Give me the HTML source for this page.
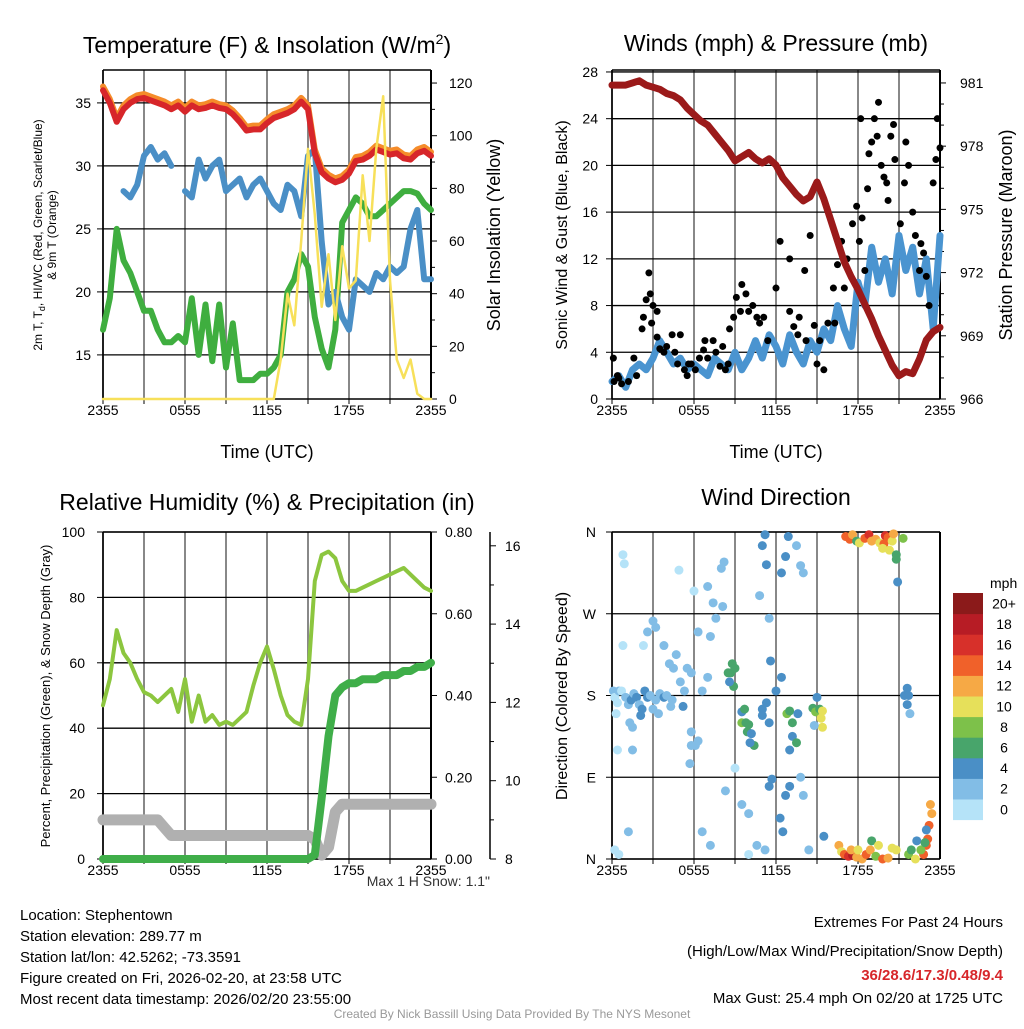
<!DOCTYPE html>
<html><head><meta charset="utf-8"><style>
body{margin:0;background:#fff;font-family:"Liberation Sans",sans-serif}
svg text{font-family:"Liberation Sans",sans-serif}
</style></head><body>
<svg id="s" width="1024" height="1024" viewBox="0 0 1024 1024" xmlns="http://www.w3.org/2000/svg">
<g>
<text x="267" y="53" font-size="23" text-anchor="middle">Temperature (F) &amp; Insolation (W/m<tspan font-size="14" dy="-9">2</tspan><tspan dy="9">)</tspan></text>
<text x="776" y="51" font-size="23" text-anchor="middle">Winds (mph) &amp; Pressure (mb)</text>
<text x="267" y="510" font-size="23" text-anchor="middle">Relative Humidity (%) &amp; Precipitation (in)</text>
<text x="776" y="505" font-size="23" text-anchor="middle">Wind Direction</text>
</g>
<g font-size="18" text-anchor="middle">
<text x="267" y="458">Time (UTC)</text>
<text x="776" y="458">Time (UTC)</text>
</g>
<text transform="translate(42,235) rotate(-90)" font-size="12" text-anchor="middle">2m T, T<tspan font-size="9" dy="3">d</tspan><tspan dy="-3">, HI/WC (Red, Green, Scarlet/Blue)</tspan></text>
<text transform="translate(56,235) rotate(-90)" font-size="12" text-anchor="middle">&amp; 9m T (Orange)</text>
<text transform="translate(500,235) rotate(-90)" font-size="18" text-anchor="middle">Solar Insolation (Yellow)</text>
<text transform="translate(567,235) rotate(-90)" font-size="16" text-anchor="middle">Sonic Wind &amp; Gust (Blue, Black)</text>
<text transform="translate(1012,235) rotate(-90)" font-size="18" text-anchor="middle">Station Pressure (Maroon)</text>
<text transform="translate(50,696) rotate(-90)" font-size="13" text-anchor="middle">Percent, Precipitation (Green), &amp; Snow Depth (Gray)</text>
<text transform="translate(567,696) rotate(-90)" font-size="16" text-anchor="middle">Direction (Colored By Speed)</text>
<text x="490" y="886" font-size="14" text-anchor="end" fill="#333">Max 1 H Snow: 1.1"</text>
<g font-size="15">
<text x="20" y="920">Location: Stephentown</text>
<text x="20" y="941">Station elevation: 289.77 m</text>
<text x="20" y="962">Station lat/lon: 42.5262; -73.3591</text>
<text x="20" y="983">Figure created on Fri, 2026-02-20, at 23:58 UTC</text>
<text x="20" y="1004">Most recent data timestamp: 2026/02/20 23:55:00</text>
</g>
<g font-size="15" text-anchor="end">
<text x="1003" y="927">Extremes For Past 24 Hours</text>
<text x="1003" y="956">(High/Low/Max Wind/Precipitation/Snow Depth)</text>
<text x="1003" y="980" fill="#d7262a" font-weight="bold">36/28.6/17.3/0.48/9.4</text>
<text x="1003" y="1003">Max Gust: 25.4 mph On 02/20 at 1725 UTC</text>
</g>
<text x="512" y="1018" font-size="12" fill="#999" text-anchor="middle">Created By Nick Bassill Using Data Provided By The NYS Mesonet</text>
</svg>
<script>
// ---- data (half-hour samples, hours 0..24 after 2355 UTC) ----
const xTickLabels=["2355","0555","1155","1755","2355"];
const tempTicks=[15,20,25,30,35];
const solarTicks=[0,20,40,60,80,100,120];
const windTicks=[0,4,8,12,16,20,24,28];
const presTicks=[966,969,972,975,978,981];
const rhTicks=[0,20,40,60,80,100];
const precipTicks=["0.00","0.20","0.40","0.60","0.80"];
const snowTicks=[8,10,12,14,16];
const dirTickLabels=["N","E","S","W","N"];
const speedLabels=["0","2","4","6","8","10","12","14","16","18","20+"];
const speedColors=["#b5e3f8","#82bde6","#4a8fc6","#48a56b","#7dc14a","#e6e05a","#f6a945","#f0612a","#d7302a","#b71c25","#8b1a1a"];

const temp2m=[36,35,33.5,34.5,35,35.3,35.4,35.2,35,34.8,34.5,34.8,34.3,34.8,34.5,34.6,34.8,34.6,34.5,34.1,33.5,32.8,32.9,32.9,33.4,33.8,34,34.2,34.5,35.1,34.5,31,29.5,29,28.7,28.9,29.4,30.4,30.5,30.8,31.3,31.1,30.9,31,30.6,30.5,31,31.2,30.8];
const dewHeat=[null,null,null,28,27.5,28.5,30.8,31.5,30.5,31,30,null,28,27.5,30.5,29,30,30.5,28,28.5,29,27.5,28.5,29,28,27,26.5,28.5,28,26,30.8,31.3,24,19,20,18,17,21,20.5,20,21.5,21,22,21.5,22,25,26.5,21,21];
const dewpoint=[17,19.5,25,22.5,21.5,20,18.5,18.5,17,16,16,16.5,16,19.5,15,19,14.5,19,14,17.5,13,13,13,13.5,13.5,14,15,20,21,23,22,18,15.5,14,17,25.5,26.5,27.5,27,26,26,26.5,27,27.5,28,28,27.8,27,26.5];
const solar=[0,0,0,0,0,0,0,0,0,0,0,0,0,0,0,0,0,0,0,0,0,0,0,0,0,0,15,40,28,60,95,70,35,55,30,58,42,45,85,60,95,115,45,15,8,15,2,0,0];
const windSpd=[1.5,2,1,2.5,3,2.5,3.5,5,4,3,3.5,2.5,3,2.5,2,3.5,3,2.5,4,2.5,3.5,5,3.5,5.5,4.5,3,5.5,4,3,5,4,6,5,8,6,4.5,10,8,13,10,12,9,14,11,13,9,12,6,14];
const pressure=[980.9,980.9,980.9,981,981.1,980.9,980.8,980.7,980.5,980.4,980.2,979.8,979.5,979.2,979,978.6,978.2,977.8,977.3,977.5,977.7,977.4,977.2,977.4,977.1,976.5,976.1,975.7,975.4,975.6,976.3,975.5,974.5,973.5,972.5,971.8,971.2,970.5,969.8,969,968.3,967.6,967.1,967.3,967.2,967.9,968.8,969.2,969.4];
const gustHr=[0.1,0.15,0.4,0.5,0.7,1.2,1.6,1.8,2.2,2.3,2.5,2.7,2.8,3,3.3,2.9,3.3,3.5,3.8,4,4.4,4.6,4.8,5,5.3,5.5,5.6,5.8,6.1,6.4,6.7,6.8,7,7.4,7.6,7.9,8.1,8.3,8.5,8.6,8.9,9.4,9.1,9.5,9.8,10,10.3,10.6,10.8,11.1,11.4,12,12.3,13,13.3,13.6,13.7,14.2,14.8,15,15.2,15.5,15.8,16.2,16.5,16.8,17.2,17.6,17.9,18.1,18.3,18.8,19.2,19.5,19.4,19.7,20.1,20.4,20.7,21.1,21.4,21.7,22,22.2,22.5,22.8,23,23.2,23.5,23.7,23.8,24,18.2,18.7,19,20.6,21.5,20.2,18.5,17,16.3,14.5,14.1,13,19.9,22.6];
const gustMph=[3.5,1.5,2,1.8,1.3,1.5,3.5,2,6,7,8.5,10.8,9,8,7.5,6.5,5.3,4.3,4,4.5,5.5,4,3,5.5,2.5,2,3,3,2.5,3.5,4.2,5,3.5,5,4,2.8,4.5,2.5,3,6,7,7.5,8.7,9.8,9,7.5,8,7,6.5,7,5,9.5,13.5,7.5,6.2,5.5,7,5,6.3,3,5,2.5,6.5,9.5,11.5,13.5,12,15,16.5,13.5,15.5,21,24,25.4,22.5,20,18.5,22.5,20.5,15,18.5,20,16,14,11,12.5,10.5,8,18.5,20.5,24,21.5,24,18,22,23.5,22,17,11,9.5,6.5,14,11,12,19,13.3];
const rh=[47,55,70,63,60,55,51,50,48,50,52,45,55,42,50,42,44,41,42,41,43,45,53,60,65,58,50,44,42,41,55,85,93,94,92,85,82,82,83,84,85,86,87,88,89,87,85,83,82];
const precip=[0,0,0,0,0,0,0,0,0,0,0,0,0,0,0,0,0,0,0,0,0,0,0,0,0,0,0,0,0,0,0,0.01,0.15,0.3,0.4,0.42,0.43,0.43,0.44,0.44,0.44,0.45,0.45,0.45,0.46,0.46,0.47,0.47,0.48];
const snow=[9,9,9,9,9,9,9,9,9,8.8,8.6,8.6,8.6,8.6,8.6,8.6,8.6,8.6,8.6,8.6,8.6,8.6,8.6,8.6,8.6,8.6,8.6,8.6,8.6,8.6,8.6,8.5,8.1,8.3,9.2,9.4,9.4,9.4,9.4,9.4,9.4,9.4,9.4,9.4,9.4,9.4,9.4,9.4,9.4];
const dirHr=[0.1,0.2,0.4,0.5,0.3,0.7,1,1.2,1.4,1.6,1.8,2,2.2,2.4,2.6,2.8,3,3.2,3.5,3.8,4,4.3,2.1,1.3,1.5,0.4,1.5,3.4,5.2,5,5.3,4.5,4.7,4.2,3.8,3.2,3,2.3,2.6,5.5,5.8,6.6,7,6.3,7.2,7.6,7,8.2,8,7.4,8.1,0.8,0.9,0.8,4.9,6,1.2,0.2,0.5,4.4,5.8,6.3,6.1,5.8,5.7,6.6,7.2,8.3,
8.5,8.7,8.8,9,8.9,8.6,9.5,9.7,9.5,9.8,10,9.9,10.2,10.4,10.1,11,11.3,11,11.5,11,11.2,11.3,10.8,11.5,12,12.4,11.6,12.8,13,13.2,13.6,13.2,13.5,13,14.7,14.9,15.2,15.4,15.3,15.4,14.8,15,12.4,12.7,12.9,13.5,13.8,14,9.5,10,11.5,11.7,12.7,13,12.3,12.5,14,13.8,15.5,10.6,11.2,14.4,10,9,
17.1,17.4,17.6,17.9,18.1,18.5,18.8,19,19.3,19.6,20,20.2,19.9,20.5,20.6,20.3,19.8,21.3,20.8,20.8,20.9,
16.6,16.8,17,17.3,17.6,17.5,17.9,18,18.3,18.6,18.9,19,19.3,19.5,19.8,20.2,20.5,20.8,21.7,21.9,22.2,22.3,
23.3,23.4,23.2,23.1,23,22.8,23,22.6,22.9,21.6,21.4,21.7,21.6,21.8];
const dirDeg=[185,178,172,185,160,185,178,170,175,182,178,170,165,185,178,180,165,175,182,178,180,168,158,150,145,120,120,160,168,195,185,210,225,215,235,255,262,235,250,210,205,185,200,250,245,265,300,327,320,282,278,235,325,335,318,295,30,10,5,175,140,130,125,125,105,30,15,75,
205,205,215,210,190,195,162,165,150,150,148,140,138,125,128,165,172,158,150,345,357,324,290,265,185,200,218,160,163,150,160,135,128,120,166,162,165,163,155,145,147,178,315,333,355,345,323,315,60,50,80,88,70,80,45,30,70,90,25,15,10,10,5,100,
355,352,357,350,348,353,357,350,352,348,356,354,347,350,358,340,342,353,335,330,305,
15,8,5,3,4,10,2,10,0,5,10,20,3,15,0,1,12,10,5,10,0,20,
60,50,37,22,15,5,32,10,18,188,180,180,170,160];
const dirSpd=[2,1,1,3,1,1,3,3,4,3,4,3,4,4,5,3,2,3,3,4,3,3,4,3,3,1,2,3,4,2,3,3,2,3,3,2,2,1,3,3,3,3,3,2,2,2,3,3,3,3,3,1,1,1,1,1,2,1,1,2,2,2,3,3,3,2,2,3,
6,6,6,7,6,5,4,6,8,6,7,6,5,7,5,5,4,5,4,4,4,4,3,2,4,4,4,8,7,6,5,4,6,4,6,8,6,10,10,10,3,5,4,4,4,2,2,2,3,3,4,4,4,4,4,4,3,2,4,2,2,2,1,1,
14,14,12,6,10,14,16,12,12,10,16,14,14,10,12,10,10,8,6,6,4,
12,10,14,16,18,12,12,10,12,14,12,6,8,10,14,12,10,10,8,6,10,4,
12,12,14,14,14,14,4,8,6,4,4,4,4,2];

const S=document.getElementById('s');
const NS='http://www.w3.org/2000/svg';
function mk(tag,attrs,parent){const e=document.createElementNS(NS,tag);for(const k in attrs)e.setAttribute(k,attrs[k]);(parent||S).appendChild(e);return e;}
function txt(x,y,s,size,anchor,parent){const t=mk('text',{x:x,y:y,'font-size':size,'text-anchor':anchor},parent);t.textContent=s;return t;}
const hrs=i=>i*0.5;

function panel(name,x0,x1,y0,y1){
  const g=mk('g',{});
  
  
  const xs=h=>x0+(x1-x0)*h/24;
  for(let k=0;k<=8;k++){
    const l=mk('line',{x1:xs(k*3),x2:xs(k*3),y1:y0,y2:y1,stroke:(k==0||k==8)?'#000':'#888','stroke-width':(k==0?1.5:2)},g);
    
    
  }
  const top=mk('line',{x1:x0,x2:x1,y1:y0,y2:y0,stroke:'#000','stroke-width':1.5},g);
  
  
  const bot=mk('line',{x1:x0,x2:x1,y1:y1,y2:y1,stroke:'#000','stroke-width':1.5},g);
  
  
  for(let k=0;k<8;k++){
    const t=mk('line',{x1:xs(k*3),x2:xs(k*3),y1:y1,y2:y1+5,stroke:'#000','stroke-width':1},g);
    
    
  }
  xTickLabels.forEach((s,i)=>{
    const t=txt(xs(i*6),y1+16,s,14,'middle',g);
    
    
  });
  return {g,xs};
}
function hgrid(g,x0,x1,y,name){
  const l=mk('line',{x1:x0,x2:x1,y1:y,y2:y,stroke:'#000','stroke-width':1.3},g);
  
  
}
function yTick(g,x,y,len,label,lx,anchor,name,size){
  const l=mk('line',{x1:x,x2:x+len,y1:y,y2:y,stroke:'#000','stroke-width':1},g);
  
  
  if(label!==null){
    const t=txt(lx,y+5,label,size||14,anchor,g);
    
    
  }
}
function linePath(g,vals,xs,ys,color,w,name){
  let d='',pen=false;
  vals.forEach((v,i)=>{
    if(v===null||v===undefined){pen=false;return;}
    d+=(pen?'L':'M')+xs(hrs(i)).toFixed(1)+','+ys(v).toFixed(1);pen=true;
  });
  const p=mk('path',{d:d,fill:'none',stroke:color,'stroke-width':w,'stroke-linejoin':'round','stroke-linecap':'round'},g);
  
  
  return p;
}
function axisLine(g,x,y0,y1,name){
  const l=mk('line',{x1:x,x2:x,y1:y0,y2:y1,stroke:'#000','stroke-width':1.5},g);
  
  
}

// ---- Panel 1: temperature ----
{
  const x0=103,x1=431,y0=70,y1=399;
  const {g,xs}=panel('temperature-panel',x0,x1,y0,y1);
  const yT=v=>y1-(v-11.5)*12.6;
  const yS=v=>y1-v*2.633;
  tempTicks.forEach(v=>{hgrid(g,x0,x1,yT(v),'temp-gridline');yTick(g,x0-6,yT(v),6,String(v),x0-12,'end','temp-y');});
  solarTicks.forEach(v=>yTick(g,x1,yS(v),6,String(v),x1+18,'start','solar-y'));
  for(let v=10;v<125;v+=20) yTick(g,x1,yS(v),4,null,0,'start','solar-minor');
  axisLine(g,x0,y0,y1,'temp-y-axis');axisLine(g,x1,y0,y1,'solar-y-axis');
  linePath(g,dewpoint,xs,yT,'#3fae3f',6,'dewpoint-line');
  linePath(g,dewHeat,xs,yT,'#4a8fc6',6,'heat-index-wind-chill-line');
  linePath(g,temp2m.map(v=>v+0.3),xs,yT,'#f58c2a',6,'9m-temperature-line');
  linePath(g,temp2m,xs,yT,'#d7262a',6,'2m-temperature-line');
  linePath(g,solar,xs,yS,'#f7e05a',2.5,'solar-insolation-line');
}
// ---- Panel 2: winds ----
{
  const x0=612,x1=940,y0=70,y1=399;
  const {g,xs}=panel('wind-panel',x0,x1,y0,y1);
  const yW=v=>y1-v*11.68;
  const yP=v=>y1-(v-966)*21.07;
  windTicks.forEach(v=>{hgrid(g,x0,x1,yW(v),'wind-gridline');yTick(g,x0-6,yW(v),6,String(v),x0-14,'end','wind-y');});
  presTicks.forEach(v=>yTick(g,x1,yP(v),6,String(v),x1+20,'start','pressure-y'));
  for(let v=967;v<982;v++) if((v-966)%3) yTick(g,x1,yP(v),4,null,0,'start','pressure-minor');
  axisLine(g,x0,y0,y1,'wind-y-axis');axisLine(g,x1,y0,y1,'pressure-y-axis');
  linePath(g,windSpd,xs,yW,'#4a94d0',7,'wind-speed-line');
  gustHr.forEach((h,i)=>{
    const c=mk('circle',{cx:xs(h),cy:yW(gustMph[i]),r:3.5,fill:'#000'},g);
    
    
  });
  linePath(g,pressure,xs,yP,'#9b1a1a',7,'pressure-line');
}
// ---- Panel 3: RH ----
{
  const x0=103,x1=431,y0=532,y1=859;
  const {g,xs}=panel('humidity-panel',x0,x1,y0,y1);
  const yR=v=>y1-v*3.27;
  const yPr=v=>y1-v/0.8*327;
  const ySn=v=>y1-(v-8)*39.15;
  rhTicks.forEach(v=>{hgrid(g,x0,x1,yR(v),'rh-gridline');yTick(g,x0-6,yR(v),6,String(v),x0-18,'end','rh-y');});
  precipTicks.forEach(s=>yTick(g,x1,yPr(parseFloat(s)),6,s,x1+14,'start','precip-y'));
  axisLine(g,x0,y0,y1,'rh-y-axis');axisLine(g,x1,y0,y1,'precip-y-axis');
  axisLine(g,490,y0,y1,'snow-y-axis');
  snowTicks.forEach(v=>yTick(g,490,ySn(v),6,String(v),505,'start','snow-y'));
  for(let v=9;v<17;v+=2) yTick(g,490,ySn(v),4,null,0,'start','snow-minor');
  linePath(g,snow,xs,ySn,'#b0b0b0',11,'snow-depth-line');
  linePath(g,rh,xs,yR,'#8cc63f',4,'relative-humidity-line');
  linePath(g,precip,xs,yPr,'#3fae49',8,'precipitation-line');
}
// ---- Panel 4: wind direction ----
{
  const x0=612,x1=940,y0=532,y1=859;
  const {g,xs}=panel('wind-direction-panel',x0,x1,y0,y1);
  const yD=d=>y1-d*(327/360);
  dirTickLabels.forEach((s,i)=>{hgrid(g,x0,x1,yD(i*90),'direction-gridline');yTick(g,x0-6,yD(i*90),6,s,x0-16,'end','direction-y');});
  axisLine(g,x0,y0,y1,'direction-y-axis');axisLine(g,x1,y0,y1,'direction-right-border');
  dirHr.forEach((h,i)=>{
    const idx=Math.min(10,Math.floor(dirSpd[i]/2));
    const c=mk('circle',{cx:xs(h),cy:yD(dirDeg[i]),r:4.5,fill:speedColors[idx]},g);
    
    
  });
  const cb=mk('g',{});
  
  
  const t=txt(990,588,'mph',14,'start',cb);
  
  
  const bh=20.6;
  speedLabels.forEach((s,i)=>{
    const yy=593+(10-i)*bh;
    const r=mk('rect',{x:953,y:yy,width:30,height:bh+0.5,fill:speedColors[i]},cb);
    
    
    const l=txt(1004,yy+bh/2+5,s,14,'middle',cb);
    
    
  });
}
</script>
</body></html>
